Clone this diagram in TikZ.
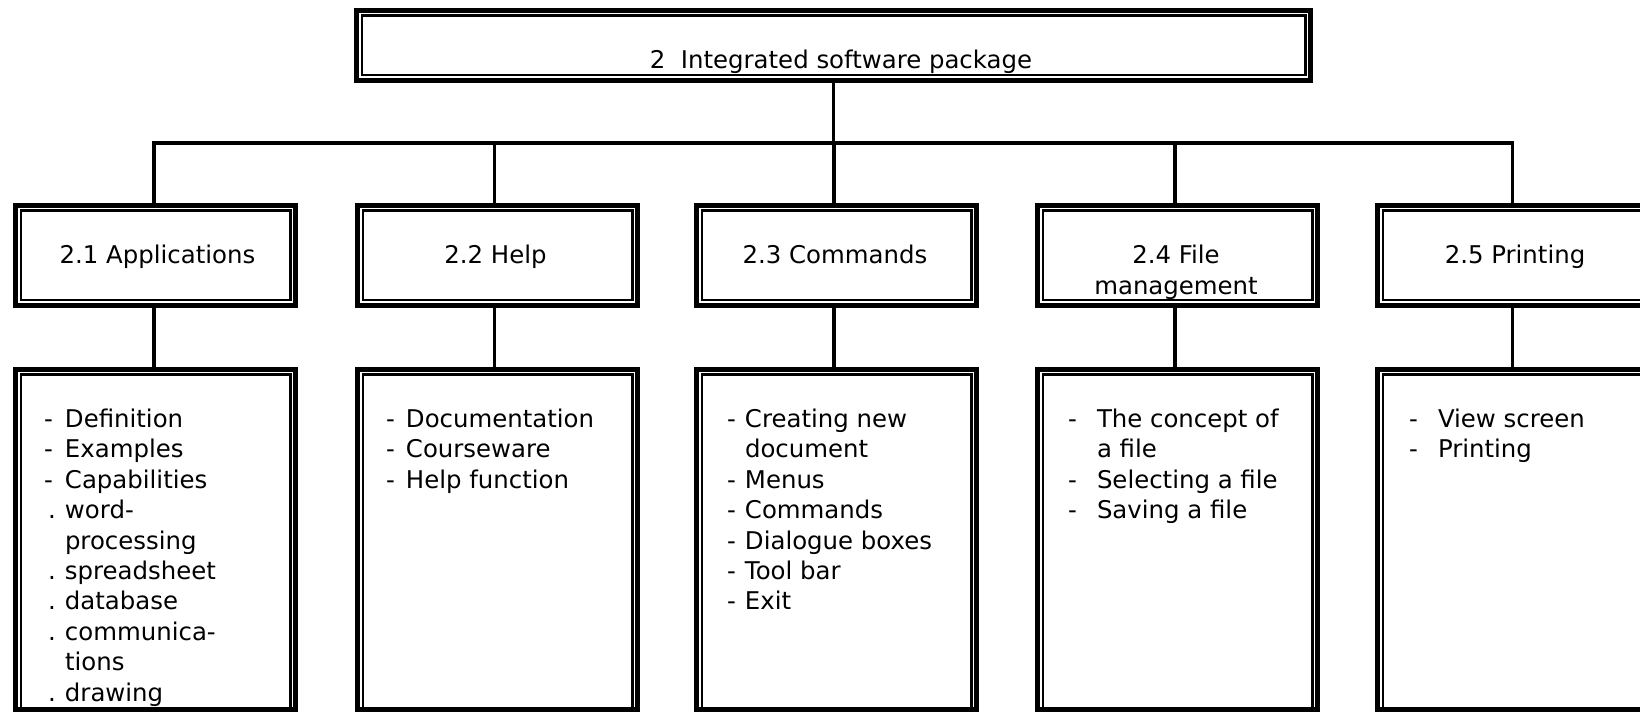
\documentclass[tikz,border=0pt]{standalone}
\usepackage{fontspec}
\setmainfont{DejaVu Sans}
\begin{document}
\begin{tikzpicture}[x=1pt,y=1pt,
  outerbox/.style={draw, line width=4.7pt, inner sep=0pt, outer sep=0pt},
  topbox/.style={outerbox, minimum width=954.5pt, minimum height=70.5pt},
  midbox/.style={outerbox, minimum width=280.5pt, minimum height=100.5pt},
  lowbox/.style={outerbox, minimum width=280.5pt, minimum height=340.5pt},
  conn/.style={line width=3.8pt},
  txt/.style={font=\fontsize{24.4}{30.4}\selectfont, inner sep=0pt, outer sep=0pt},
  midtxt/.style={txt, align=center, anchor=north},
  listtxt/.style={txt, align=left, anchor=north west},
]
\fill[white] (0,0) rectangle (1640,712);
\useasboundingbox (0,0) rectangle (1640,712);
\clip (0,0) rectangle (1640,712);

% boxes
\node[topbox] (top) at (833.5,666.5) {};
\node[midbox] (b1) at (155.5,456.5) {};
\node[midbox] (b2) at (497.5,456.5) {};
\node[midbox] (b3) at (836.5,456.5) {};
\node[midbox] (b4) at (1177.5,456.5) {};
\node[midbox] (b5) at (1517.5,456.5) {};
\node[lowbox] (l1) at (155.5,172.5) {};
\node[lowbox] (l2) at (497.5,172.5) {};
\node[lowbox] (l3) at (836.5,172.5) {};
\node[lowbox] (l4) at (1177.5,172.5) {};
\node[lowbox] (l5) at (1517.5,172.5) {};

% inner lines of the borders
\foreach \n in {top,b1,b2,b3,b4,b5}
  \draw[line width=2.5pt] ([xshift=5.5pt,yshift=5.5pt]\n.south west) rectangle ([xshift=-5.5pt,yshift=-5.5pt]\n.north east);
\foreach \n in {l1,l2,l3,l4,l5}
  \draw[line width=2.5pt] ([xshift=5.5pt,yshift=2pt]\n.south west) rectangle ([xshift=-5.5pt,yshift=-5.5pt]\n.north east);

% connectors (slightly left of the box centres, as drawn)
\coordinate (bus) at (0,569);
\draw[conn] (top.south) -- (top.south |- bus);
\draw[conn] ([xshift=-1.5pt]b1.north) -- ([xshift=-1.5pt]b1.north |- bus) -- ([xshift=-5pt]b5.north |- bus) -- ([xshift=-5pt]b5.north);
\draw[conn] ([xshift=-3pt]b2.north) -- ([xshift=-3pt]b2.north |- bus);
\draw[conn] ([xshift=-2.5pt]b3.north) -- ([xshift=-2.5pt]b3.north |- bus);
\draw[conn] ([xshift=-2.5pt]b4.north) -- ([xshift=-2.5pt]b4.north |- bus);
\draw[conn] ([xshift=-1.5pt]b1.south) -- ([xshift=-1.5pt]l1.north);
\draw[conn] ([xshift=-3pt]b2.south) -- ([xshift=-3pt]l2.north);
\draw[conn] ([xshift=-2.5pt]b3.south) -- ([xshift=-2.5pt]l3.north);
\draw[conn] ([xshift=-2.5pt]b4.south) -- ([xshift=-2.5pt]l4.north);
\draw[conn] ([xshift=-5pt]b5.south) -- ([xshift=-5pt]l5.north);

% texts
\node[txt, anchor=base] (ttop) at (841,643.7) {2\ \ Integrated software package};
\node[midtxt] (tb1) at (157.5,469.3) {\strut 2.1 Applications};
\node[midtxt] (tb2) at (495.5,469.3) {\strut 2.2 Help};
\node[midtxt] (tb3) at (835,469.3) {\strut 2.3 Commands};
\node[midtxt] (tb4) at (1176,469.3) {\strut 2.4 File\\\strut management};
\node[midtxt] (tb5) at (1515,469.3) {\strut 2.5 Printing};

\node[listtxt] (tl1) at (44,305.8) {%
\strut\makebox[21pt][l]{-}Definition\\
\strut\makebox[21pt][l]{-}Examples\\
\strut\makebox[21pt][l]{-}Capabilities\\
\strut\hspace*{4pt}\makebox[17pt][l]{.}word-\\
\strut\hspace*{21pt}processing\\
\strut\hspace*{4pt}\makebox[17pt][l]{.}spreadsheet\\
\strut\hspace*{4pt}\makebox[17pt][l]{.}database\\
\strut\hspace*{4pt}\makebox[17pt][l]{.}communica-\\
\strut\hspace*{21pt}tions\\
\strut\hspace*{4pt}\makebox[17pt][l]{.}drawing};

\node[listtxt] (tl2) at (386,305.8) {%
\strut\makebox[20pt][l]{-}Documentation\\
\strut\makebox[20pt][l]{-}Courseware\\
\strut\makebox[20pt][l]{-}Help function};

\node[listtxt] (tl3) at (727,305.8) {%
\strut\makebox[18pt][l]{-}Creating new\\
\strut\hspace*{18pt}document\\
\strut\makebox[18pt][l]{-}Menus\\
\strut\makebox[18pt][l]{-}Commands\\
\strut\makebox[18pt][l]{-}Dialogue boxes\\
\strut\makebox[18pt][l]{-}Tool bar\\
\strut\makebox[18pt][l]{-}Exit};

\node[listtxt] (tl4) at (1068,305.8) {%
\strut\makebox[29pt][l]{-}The concept of\\
\strut\hspace*{29pt}a file\\
\strut\makebox[29pt][l]{-}Selecting a file\\
\strut\makebox[29pt][l]{-}Saving a file};

\node[listtxt] (tl5) at (1409,305.8) {%
\strut\makebox[29pt][l]{-}View screen\\
\strut\makebox[29pt][l]{-}Printing};
\end{tikzpicture}
\end{document}
